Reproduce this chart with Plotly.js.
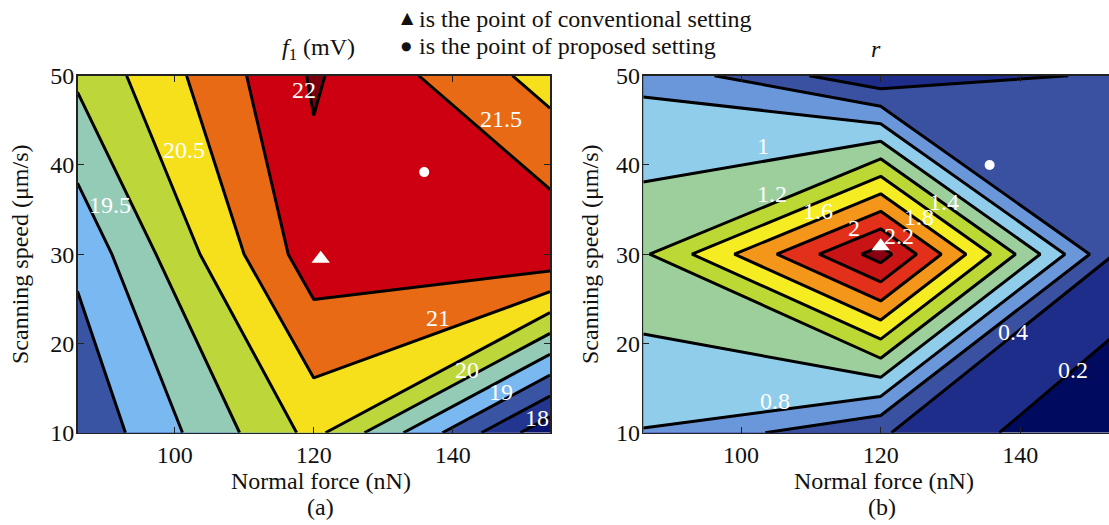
<!DOCTYPE html>
<html><head><meta charset="utf-8">
<script src="https://cdn.plot.ly/plotly-3.0.1.min.js"></script>
<style>html,body{margin:0;padding:0;background:#fff}</style>
</head><body>
<div id="chart" style="width:1109px;height:525px"></div>
<script>
// ---------- data ----------
const forceGrid = [86, 120, 154];          // Normal force (nN)
const speedGrid = [10, 30, 50];            // Scanning speed (um/s)
const f1Values = [                          // rows follow speedGrid
  [18.58, 20.65, 17.62],
  [19.11, 21.79, 21.90],
  [20.09, 22.06, 20.80]
];
const rValues = [
  [0.79, 0.42, -0.02],
  [1.17, 2.29, 0.37],
  [0.75, 0.25, 0.44]
];
const f1Levels = [18, 22, 0.5];   // start, end, step
const rLevels = [0.2, 2.2, 0.2];
const f1LabelText = ['22', '21.5', '20.5', '19.5', '21', '20', '19', '18'];
const f1LabelForce = [118.6, 147, 101.3, 90.7, 137.9, 142.0, 147.0, 152.2];
const f1LabelSpeed = [48.4, 45.2, 41.7, 35.5, 22.8, 17.0, 14.6, 11.6];
const rLabelText = ['1', '1.2', '1.6', '2', '2.2', '1.8', '1.4', '0.8', '0.4', '0.2'];
const rLabelForce = [103.2, 104.5, 111.0, 116.2, 122.6, 125.5, 129.0, 104.8, 139.0, 147.6];
const rLabelSpeed = [42.1, 36.8, 34.8, 32.9, 32.0, 34.2, 35.9, 13.5, 21.3, 17.0];
const conventionalA = [121, 29.5];
const proposedA = [135.9, 39.2];
const conventionalB = [120, 30.9];
const proposedB = [135.6, 40.0];

// ---------- styles ----------
const f1Colors = ['#0a1470', '#22358f', '#3a54a4', '#7ab8f2', '#94cbb6', '#bdd63a', '#f6e01c', '#e86a14', '#cc0010', '#7a0010'];
const rColors = ['#000a5e', '#1e2d8a', '#3a50a0', '#6a96da', '#90cdea', '#9ccf9c', '#bcd835', '#f6ec22', '#f4961a', '#e2301a', '#c81414', '#8a0010'];
function scale(cols) { return cols.map((c, i) => [i / (cols.length - 1), c]); }

const W = 1109, H = 525;
const px = v => v / W, py = v => 1 - v / H;
const FONT = 'Liberation Serif';
const FS = 24;

function contourTrace(z, lv, cols, xa, ya) {
  return {
    type: 'contour', x: forceGrid, y: speedGrid, z: z, xaxis: xa, yaxis: ya,
    autocontour: false,
    contours: {start: lv[0], end: lv[1], size: lv[2], coloring: 'fill', showlines: true},
    line: {color: '#000', width: 3, smoothing: 0},
    colorscale: scale(cols), showscale: false, hoverinfo: 'skip'
  };
}
function markerTrace(pt, sym, size, xa, ya) {
  return {type: 'scatter', mode: 'markers', x: [pt[0]], y: [pt[1]], xaxis: xa, yaxis: ya,
    marker: {symbol: sym, size: size, color: '#fff', line: {width: 0}}, hoverinfo: 'skip'};
}

const data = [
  contourTrace(f1Values, f1Levels, f1Colors, 'x', 'y'),
  contourTrace(rValues, rLevels, rColors, 'x2', 'y2'),
  markerTrace(conventionalA, 'triangle-up', 16, 'x', 'y'),
  markerTrace(proposedA, 'circle', 10, 'x', 'y'),
  markerTrace(conventionalB, 'triangle-up', 16, 'x2', 'y2'),
  markerTrace(proposedB, 'circle', 10, 'x2', 'y2')
];

const axisCommon = {
  ticks: 'inside', ticklen: 6, tickwidth: 1, tickcolor: '#222',
  showline: true, linecolor: '#222', linewidth: 1.5,
  showgrid: false, zeroline: false,
  tickfont: {family: FONT, size: FS, color: '#111'}
};
const yDom = [py(432.7), py(75.7)];

const annotations = [];
function addLabels(txt, xs, ys, xr, yr) {
  txt.forEach((t, i) => annotations.push({
    x: xs[i], y: ys[i], xref: xr, yref: yr, text: t, showarrow: false,
    font: {family: FONT, size: FS, color: '#fff'}
  }));
}
addLabels(f1LabelText, f1LabelForce, f1LabelSpeed, 'x', 'y');
addLabels(rLabelText, rLabelForce, rLabelSpeed, 'x2', 'y2');

function paperText(text, x, y, opts) {
  annotations.push(Object.assign({
    x: px(x), y: py(y), xref: 'paper', yref: 'paper', text: text, showarrow: false,
    xanchor: 'center', yanchor: 'middle',
    font: {family: FONT, size: FS, color: '#111'}
  }, opts || {}));
}
paperText('▲', 407.5, 18, {font: {family: 'DejaVu Sans', size: 16, color: '#111'}});
paperText('●', 406, 46, {font: {family: 'DejaVu Sans', size: 12, color: '#111'}});
paperText('is the point of conventional setting', 417, 19, {xanchor: 'left'});
paperText('is the point of proposed setting', 417, 46, {xanchor: 'left'});
paperText('<i>f</i><sub>1</sub> (mV)', 318, 49);
paperText('<i>r</i>', 876, 49);
paperText('Normal force (nN)', 321, 481);
paperText('Normal force (nN)', 884, 481);
paperText('(a)', 320, 507);
paperText('(b)', 882, 507);
paperText('Scanning speed (μm/s)', 20, 254, {textangle: -90});
paperText('Scanning speed (μm/s)', 590, 254, {textangle: -90});

const layout = {
  width: W, height: H, margin: {l: 0, r: 0, t: 0, b: 0},
  paper_bgcolor: '#fff', plot_bgcolor: '#fff', showlegend: false,
  font: {family: FONT, size: FS, color: '#111'},
  xaxis: Object.assign({}, axisCommon, {domain: [px(77.5), px(550)], range: [86, 154], tickvals: [100, 120, 140], anchor: 'y', mirror: 'ticks'}),
  yaxis: Object.assign({}, axisCommon, {domain: yDom, range: [10, 50], tickvals: [10, 20, 30, 40, 50], anchor: 'x', mirror: 'ticks', ticklabelstandoff: -3}),
  xaxis2: Object.assign({}, axisCommon, {domain: [px(643.3), 1], range: [86, 152.7], tickvals: [100, 120, 140], anchor: 'y2', mirror: 'ticks'}),
  yaxis2: Object.assign({}, axisCommon, {domain: yDom, range: [10, 50], tickvals: [10, 20, 30, 40, 50], anchor: 'x2', mirror: false, ticklabelstandoff: -3}),
  annotations: annotations
};

Plotly.newPlot('chart', data, layout, {staticPlot: true, displayModeBar: false});
</script>
</body></html>
